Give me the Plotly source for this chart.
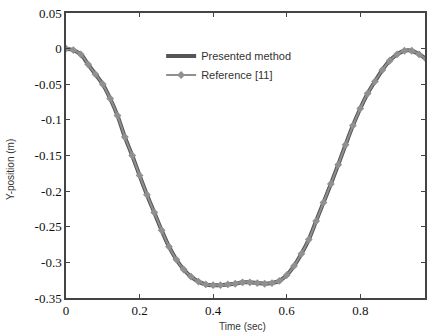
import plotly.graph_objects as go

time_s = [0.00, 0.02, 0.04, 0.06, 0.08, 0.10, 0.12, 0.14, 0.16, 0.18,
          0.20, 0.22, 0.24, 0.26, 0.28, 0.30, 0.32, 0.34, 0.36, 0.38,
          0.40, 0.42, 0.44, 0.46, 0.48, 0.50, 0.52, 0.54, 0.56, 0.58,
          0.60, 0.62, 0.64, 0.66, 0.68, 0.70, 0.72, 0.74, 0.76, 0.78,
          0.80, 0.82, 0.84, 0.86, 0.88, 0.90, 0.92, 0.94, 0.96, 0.98]

presented_y = [0.000, -0.002, -0.008, -0.022, -0.036, -0.050, -0.070, -0.094, -0.124, -0.150,
               -0.178, -0.205, -0.230, -0.255, -0.278, -0.296, -0.310, -0.320, -0.327, -0.331,
               -0.332, -0.332, -0.331, -0.330, -0.328, -0.328, -0.329, -0.330, -0.329, -0.326,
               -0.318, -0.305, -0.288, -0.268, -0.242, -0.216, -0.190, -0.163, -0.135, -0.108,
               -0.084, -0.063, -0.046, -0.030, -0.017, -0.008, -0.003, -0.003, -0.008, -0.015]

reference_y = [0.000, -0.002, -0.008, -0.022, -0.036, -0.050, -0.070, -0.094, -0.124, -0.150,
               -0.178, -0.205, -0.230, -0.255, -0.278, -0.296, -0.310, -0.320, -0.327, -0.331,
               -0.332, -0.332, -0.331, -0.330, -0.328, -0.328, -0.329, -0.330, -0.329, -0.326,
               -0.318, -0.305, -0.288, -0.268, -0.242, -0.216, -0.190, -0.163, -0.135, -0.108,
               -0.084, -0.063, -0.046, -0.030, -0.017, -0.008, -0.003, -0.003, -0.008, -0.015]

x_tick_vals = [0, 0.2, 0.4, 0.6, 0.8, 1.0]
x_tick_text = ["0", "0.2", "0.4", "0.6", "0.8", "1"]
y_tick_vals = [0.05, 0, -0.05, -0.1, -0.15, -0.2, -0.25, -0.3, -0.35]
y_tick_text = ["0.05", "0", "-0.05", "-0.1", "-0.15", "-0.2", "-0.25", "-0.3", "-0.35"]

fig = go.Figure()
fig.add_trace(go.Scatter(
    x=time_s, y=presented_y, mode="lines", name="Presented method",
    line=dict(color="#555555", width=4, shape="spline"),
))
fig.add_trace(go.Scatter(
    x=time_s, y=reference_y, mode="lines+markers", name="Reference [11]",
    line=dict(color="#909090", width=2, shape="spline"),
    marker=dict(symbol="diamond", size=6, color="#909090"),
))

axis_common = dict(
    showgrid=False, zeroline=False, showline=True, linecolor="#444444", linewidth=1.5,
    ticks="inside", ticklen=4, tickcolor="#444444", mirror="ticks",
    tickfont=dict(family="Times New Roman, Liberation Serif, serif", size=13, color="#111111"),
)

fig.update_layout(
    width=427, height=335,
    margin=dict(l=66, r=0, t=13, b=37),
    plot_bgcolor="white", paper_bgcolor="white",
    xaxis=dict(range=[0, 0.976], tickvals=x_tick_vals, ticktext=x_tick_text, **axis_common),
    yaxis=dict(range=[-0.35, 0.05], tickvals=y_tick_vals, ticktext=y_tick_text, **axis_common),
    legend=dict(
        x=0.265, y=0.90, xanchor="left", yanchor="top",
        bgcolor="rgba(0,0,0,0)", itemwidth=30, tracegroupgap=0,
        font=dict(family="Liberation Sans", size=11, color="#333333"),
    ),
    showlegend=True,
    annotations=[
        dict(text="Time (sec)", xref="paper", yref="paper", x=(243 - 66) / 361, y=-0.10,
             xanchor="center", yanchor="middle", showarrow=False,
             font=dict(family="Liberation Sans", size=10, color="#333333")),
        dict(text="Y-position (m)", xref="paper", yref="paper", x=-0.155, y=0.45,
             xanchor="center", yanchor="middle", showarrow=False, textangle=-90,
             font=dict(family="Liberation Sans", size=10, color="#333333")),
    ],
)

fig.write_html(
    "out.html",
    config={"displayModeBar": False},
    post_script="document.body.style.margin='0';document.body.style.overflow='hidden';",
)
